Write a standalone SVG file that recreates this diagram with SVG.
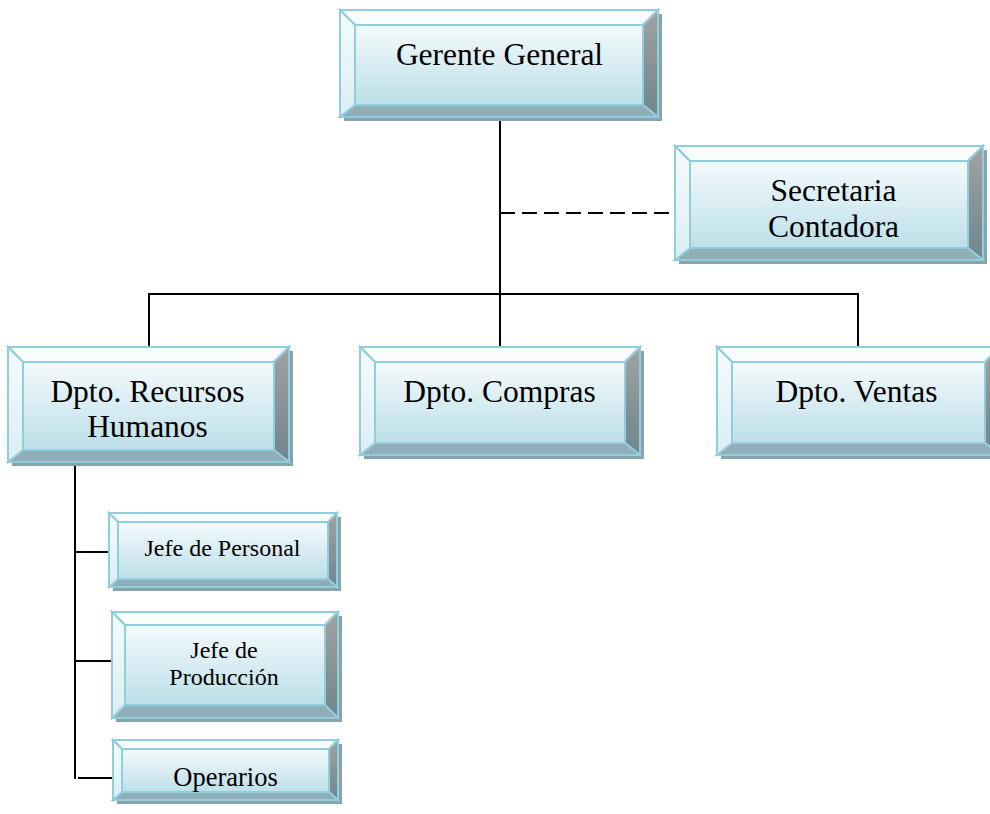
<svg xmlns="http://www.w3.org/2000/svg" width="990" height="814" viewBox="0 0 990 814">
  <defs>
    <linearGradient id="faceGrad" x1="0" y1="0" x2="0" y2="1">
      <stop offset="0" stop-color="#f4fafc"/>
      <stop offset="1" stop-color="#bcdfe8"/>
    </linearGradient>
    <linearGradient id="leftGrad" x1="0" y1="0" x2="0" y2="1">
      <stop offset="0" stop-color="#f6fbfc"/>
      <stop offset="1" stop-color="#d9eef3"/>
    </linearGradient>
    <linearGradient id="rightGrad" x1="0" y1="0" x2="0" y2="1">
      <stop offset="0" stop-color="#a2a2a2"/>
      <stop offset="1" stop-color="#6e868d"/>
    </linearGradient>
    <style>
      .shadow { fill: #8aa3ab; }
      .top { fill: #f8fcfd; }
      .left { fill: url(#leftGrad); }
      .right { fill: url(#rightGrad); }
      .bottom { fill: #90aeb7; }
      .face { fill: url(#faceGrad); }
      .top, .left, .right, .bottom, .face { stroke: #92cddc; stroke-width: 2; stroke-linejoin: miter; }
      .lbl { font-family: "Liberation Serif", "Times New Roman", serif; fill: #000; text-anchor: middle; }
      .big { font-size: 31.5px; }
      .small { font-size: 24px; }
      .mid { font-size: 26.5px; }
      .wire { stroke: #000; stroke-width: 2; fill: none; stroke-linecap: square; }
      .dash { stroke: #000; stroke-width: 2; fill: none; stroke-dasharray: 15 7; }
    </style>
  </defs>

  <rect width="990" height="814" fill="#ffffff"/>

  <!-- connectors -->
  <g id="connectors">
    <line class="wire" x1="500" y1="121" x2="500" y2="346"/>
    <line class="dash" x1="500" y1="213" x2="675" y2="213"/>
    <polyline class="wire" points="149,346 149,294 858,294 858,346"/>
    <line class="wire" x1="75" y1="463" x2="75" y2="778"/>
    <line class="wire" x1="75" y1="552" x2="109" y2="552"/>
    <line class="wire" x1="75" y1="661" x2="112" y2="661"/>
    <line class="wire" x1="79" y1="778" x2="113" y2="778"/>
  </g>

  <!-- Gerente General: outer 340,10 318x107 -->
  <g id="gerente-general">
    <rect class="shadow" x="344" y="14" width="318" height="107"/>
    <polygon class="top" points="340,10 658,10 643,25 355,25"/>
    <polygon class="right" points="658,10 658,117 643,105 643,25"/>
    <polygon class="bottom" points="658,117 340,117 355,105 643,105"/>
    <polygon class="left" points="340,117 340,10 355,25 355,105"/>
    <rect class="face" x="355" y="25" width="288" height="80"/>
    <text class="lbl big" x="499.5" y="65">Gerente General</text>
  </g>

  <!-- Secretaria Contadora: outer 675,146 308x114 -->
  <g id="secretaria-contadora">
    <rect class="shadow" x="679" y="150" width="308" height="114"/>
    <polygon class="top" points="675,146 983,146 968,161 690,161"/>
    <polygon class="right" points="983,146 983,260 968,248 968,161"/>
    <polygon class="bottom" points="983,260 675,260 690,248 968,248"/>
    <polygon class="left" points="675,260 675,146 690,161 690,248"/>
    <rect class="face" x="690" y="161" width="278" height="87"/>
    <text class="lbl big" x="833.5" y="200.5">Secretaria</text>
    <text class="lbl big" x="833.5" y="236.5">Contadora</text>
  </g>

  <!-- Dpto. Recursos Humanos: outer 8,347 281x115 -->
  <g id="dpto-rrhh">
    <rect class="shadow" x="12" y="351" width="281" height="115"/>
    <polygon class="top" points="8,347 289,347 274,362 23,362"/>
    <polygon class="right" points="289,347 289,462 274,450 274,362"/>
    <polygon class="bottom" points="289,462 8,462 23,450 274,450"/>
    <polygon class="left" points="8,462 8,347 23,362 23,450"/>
    <rect class="face" x="23" y="362" width="251" height="88"/>
    <text class="lbl big" x="147.5" y="402">Dpto. Recursos</text>
    <text class="lbl big" x="147.5" y="437">Humanos</text>
  </g>

  <!-- Dpto. Compras: outer 360,347 280x108 -->
  <g id="dpto-compras">
    <rect class="shadow" x="364" y="351" width="280" height="108"/>
    <polygon class="top" points="360,347 640,347 625,362 375,362"/>
    <polygon class="right" points="640,347 640,455 625,443 625,362"/>
    <polygon class="bottom" points="640,455 360,455 375,443 625,443"/>
    <polygon class="left" points="360,455 360,347 375,362 375,443"/>
    <rect class="face" x="375" y="362" width="250" height="81"/>
    <text class="lbl big" x="499.5" y="402">Dpto. Compras</text>
  </g>

  <!-- Dpto. Ventas: outer 717,347 283x108 (runs past the right edge) -->
  <g id="dpto-ventas">
    <rect class="shadow" x="721" y="351" width="283" height="108"/>
    <polygon class="top" points="717,347 1000,347 985,362 732,362"/>
    <polygon class="right" points="1000,347 1000,455 985,443 985,362"/>
    <polygon class="bottom" points="1000,455 717,455 732,443 985,443"/>
    <polygon class="left" points="717,455 717,347 732,362 732,443"/>
    <rect class="face" x="732" y="362" width="253" height="81"/>
    <text class="lbl big" x="856.5" y="402">Dpto. Ventas</text>
  </g>

  <!-- Jefe de Personal: outer 109,513 228x74 -->
  <g id="jefe-personal">
    <rect class="shadow" x="113" y="517" width="228" height="74"/>
    <polygon class="top" points="109,513 337,513 328,522 118,522"/>
    <polygon class="right" points="337,513 337,587 328,579 328,522"/>
    <polygon class="bottom" points="337,587 109,587 118,579 328,579"/>
    <polygon class="left" points="109,587 109,513 118,522 118,579"/>
    <rect class="face" x="118" y="522" width="210" height="57"/>
    <text class="lbl small" x="222.5" y="556">Jefe de Personal</text>
  </g>

  <!-- Jefe de Producción: outer 112,612 226x106 -->
  <g id="jefe-produccion">
    <rect class="shadow" x="116" y="616" width="226" height="106"/>
    <polygon class="top" points="112,612 338,612 325,625 125,625"/>
    <polygon class="right" points="338,612 338,718 325,705 325,625"/>
    <polygon class="bottom" points="338,718 112,718 125,705 325,705"/>
    <polygon class="left" points="112,718 112,612 125,625 125,705"/>
    <rect class="face" x="125" y="625" width="200" height="80"/>
    <text class="lbl small" x="224" y="658">Jefe de</text>
    <text class="lbl small" x="224" y="685">Producción</text>
  </g>

  <!-- Operarios: outer 113,740 225x60 -->
  <g id="operarios">
    <rect class="shadow" x="117" y="744" width="225" height="60"/>
    <polygon class="top" points="113,740 338,740 329,749 122,749"/>
    <polygon class="right" points="338,740 338,800 329,792 329,749"/>
    <polygon class="bottom" points="338,800 113,800 122,792 329,792"/>
    <polygon class="left" points="113,800 113,740 122,749 122,792"/>
    <rect class="face" x="122" y="749" width="207" height="43"/>
    <text class="lbl mid" x="225.5" y="786">Operarios</text>
  </g>
</svg>
